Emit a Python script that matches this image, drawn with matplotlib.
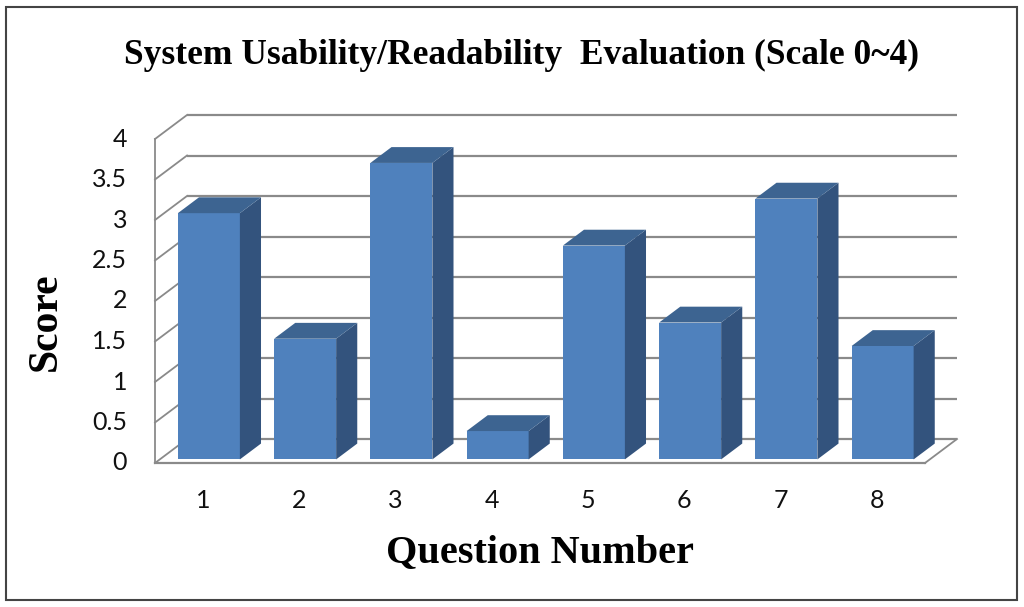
import matplotlib
matplotlib.use("Agg")
import matplotlib.pyplot as plt
from matplotlib.patches import Polygon, Rectangle

# ---- data ----
questions = ["1", "2", "3", "4", "5", "6", "7", "8"]
scores = [3.04, 1.49, 3.66, 0.35, 2.64, 1.69, 3.22, 1.40]
yticks = [0, 0.5, 1, 1.5, 2, 2.5, 3, 3.5, 4]
ytick_labels = ["0", "0.5", "1", "1.5", "2", "2.5", "3", "3.5", "4"]
title = "System Usability/Readability  Evaluation (Scale 0~4)"
xlabel = "Question Number"
ylabel = "Score"

W, H = 1024, 607
fig = plt.figure(figsize=(W / 100, H / 100), dpi=100)
fig.patch.set_facecolor("white")

# axes covering the front edge of the floor (x: 155..925 px, y: 463..139 px)
ax = fig.add_axes([155 / W, (H - 463) / H, 770 / W, 324 / H])
ax.set_xlim(0.5, 8.5)
ax.set_ylim(0, 4)
ax.axis("off")

# oblique depth in data units
DX = 32 / 96.25
DY = 24 / 81.0
grid_c = "#8a8a8a"
x0, x1 = 0.5, 8.5

# back-wall gridlines and left-wall slants
for v in yticks:
    ax.plot([x0 + DX, x1 + DX], [v + DY, v + DY], color=grid_c, lw=1.6,
            clip_on=False, solid_capstyle="butt", zorder=1)
    ax.plot([x0, x0 + DX], [v, v + DY], color=grid_c, lw=1.3,
            clip_on=False, zorder=1)
# left wall front edge
ax.plot([x0, x0], [0, 4], color=grid_c, lw=1.3, clip_on=False, zorder=1)
# floor front edge and right edge
ax.plot([x0, x1], [0, 0], color=grid_c, lw=1.6, clip_on=False, zorder=1)
ax.plot([x1, x1 + DX], [0, DY], color=grid_c, lw=1.3, clip_on=False, zorder=1)

# bars
front_c = "#4f81bd"
top_c = "#3d6491"
side_c = "#33537d"
bw = 62 / 96.25
f0 = 0.15          # front face depth fraction
fd = 0.66          # bar depth fraction
for i, v in enumerate(scores):
    cx = i + 1
    xl = cx - bw / 2 + f0 * DX + 0.01
    xr = xl + bw
    yb = f0 * DY
    yt = yb + v
    ddx, ddy = fd * DX, fd * DY
    ax.add_patch(Polygon([(xl, yb), (xr, yb), (xr, yt), (xl, yt)],
                         closed=True, facecolor=front_c, edgecolor="none",
                         clip_on=False, zorder=3))
    ax.add_patch(Polygon([(xr, yb), (xr + ddx, yb + ddy), (xr + ddx, yt + ddy), (xr, yt)],
                         closed=True, facecolor=side_c, edgecolor="none",
                         clip_on=False, zorder=3))
    ax.add_patch(Polygon([(xl, yt), (xr, yt), (xr + ddx, yt + ddy), (xl + ddx, yt + ddy)],
                         closed=True, facecolor=top_c, edgecolor="none",
                         clip_on=False, zorder=3))

# tick labels
tick_font = dict(family=["Lato", "DejaVu Sans"], fontsize=18, color="#111111")
for v, lab in zip(yticks, ytick_labels):
    ax.text(x0 - 28 / 96.25, v, lab, ha="right", va="center", clip_on=False, **tick_font)
for i, lab in enumerate(questions):
    ax.text(i + 1, -38 / 81.0, lab, ha="center", va="center", clip_on=False, **tick_font)

serif = ["Liberation Serif", "DejaVu Serif"]
fig.text(522 / W, 1 - 55 / H, title, ha="center", va="center",
         family=serif, fontweight="bold", fontsize=25.5)
fig.text(540 / W, 1 - 553 / H, xlabel, ha="center", va="center",
         family=serif, fontweight="bold", fontsize=29)
fig.text(46 / W, 1 - 322 / H, ylabel, ha="center", va="center", rotation=90,
         family=serif, fontweight="bold", fontsize=30)

# outer frame
fig.add_artist(Rectangle((6 / W, 1 - 600 / H), (1017 - 6) / W, (600 - 7) / H,
                         transform=fig.transFigure, fill=False,
                         edgecolor="#444444", lw=1.5))

fig.savefig("out.png", dpi=100, facecolor="white")
